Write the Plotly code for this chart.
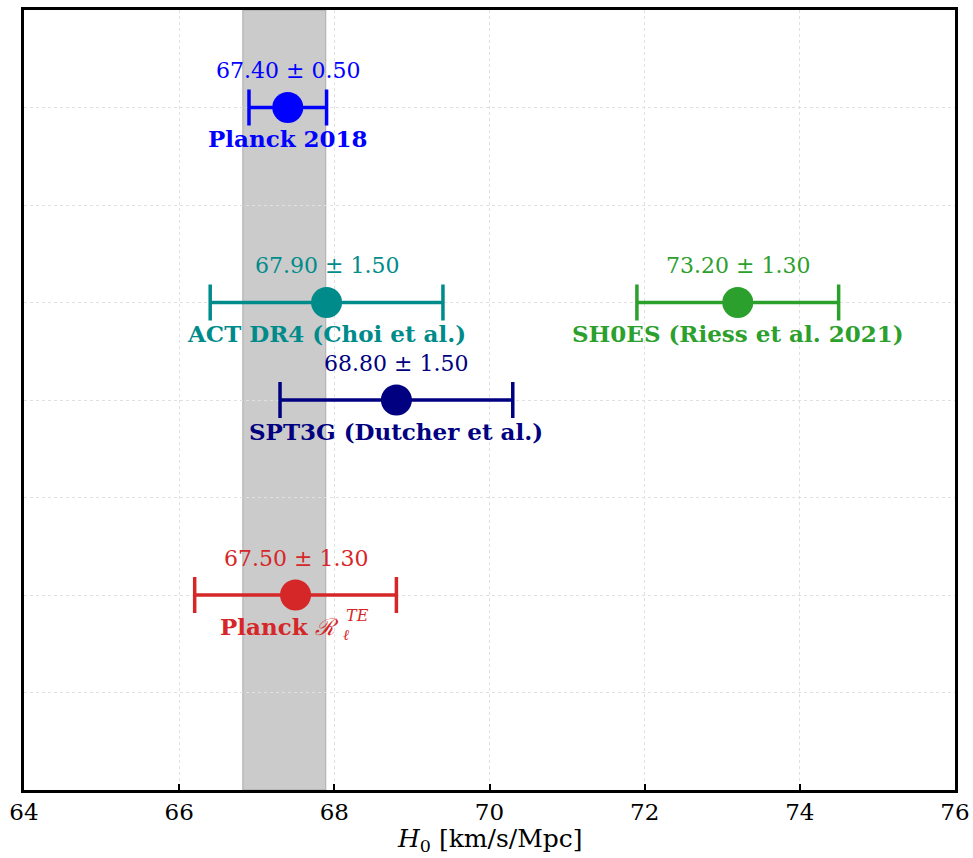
import plotly.graph_objects as go

names = ["Planck 2018", "ACT DR4 (Choi et al.)", "SPT3G (Dutcher et al.)", "SH0ES (Riess et al. 2021)", "Planck"]
h0 = [67.40, 67.90, 68.80, 73.20, 67.50]
err = [0.50, 1.50, 1.50, 1.30, 1.30]
ypos = [7, 5, 4, 5, 2]
colors = ["#0000ff", "#008b8b", "#000080", "#2ca02c", "#d62728"]
band = [66.82, 67.89]
xticks = [64, 66, 68, 70, 72, 74, 76]
xtitle = "<i>H</i><sub>0</sub> [km/s/Mpc]"

fig = go.Figure()
fig.add_shape(type="rect", xref="x", yref="paper", x0=band[0], x1=band[1], y0=0, y1=1,
              fillcolor="rgba(160,160,160,0.55)", line=dict(color="rgba(140,140,140,0.6)", width=1), layer="below")

serif = "DejaVu Serif"
for i, (n, x, e, y, c) in enumerate(zip(names, h0, err, ypos, colors)):
    fig.add_trace(go.Scatter(x=[x], y=[y], mode="markers",
                             marker=dict(size=31, color=c),
                             error_x=dict(type="data", array=[e], color=c, thickness=3.5, width=18),
                             showlegend=False, hoverinfo="skip"))
    fig.add_annotation(x=x, y=y, text=f"{x:.2f} ± {e:.2f}", showarrow=False, yshift=37,
                       font=dict(family=serif, size=22, color=c))
    if i == 4:
        fig.add_annotation(x=x, y=y, text=f"<b>{n}</b> <i>ℛ</i>", showarrow=False, yshift=-31,
                           xshift=-16, font=dict(family=serif, size=23, color=c))
        fig.add_annotation(x=x, y=y, text="<i>TE</i>", showarrow=False, yshift=-20, xshift=62,
                           font=dict(family=serif, size=16, color=c))
        fig.add_annotation(x=x, y=y, text="<i>ℓ</i>", showarrow=False, yshift=-40, xshift=50,
                           font=dict(family=serif, size=15, color=c))
    else:
        fig.add_annotation(x=x, y=y, text=f"<b>{n}</b>", showarrow=False, yshift=-31,
                           font=dict(family=serif, size=23, color=c))

fig.add_annotation(x=0.5, y=0, xref="paper", yref="paper", text=xtitle, showarrow=False,
                   yanchor="bottom", yshift=-67, borderpad=0,
                   font=dict(family=serif, size=25, color="black"))

fig.update_layout(
    width=973, height=858,
    margin=dict(l=24, r=18, t=10, b=68),
    plot_bgcolor="white", paper_bgcolor="white",
    font=dict(family=serif, color="black"),
    xaxis=dict(range=[64, 76], tickvals=xticks, ticktext=[str(t) for t in xticks],
               showline=True, linecolor="black", linewidth=2.5, mirror=True,
               ticks="inside", ticklen=6, tickwidth=2, tickcolor="black",
               showgrid=True, gridcolor="#e0e0e0", griddash="dot", gridwidth=1,
               tickfont=dict(family=serif, size=23), automargin=False,
               zeroline=False),
    yaxis=dict(range=[0, 8], tickvals=[1, 2, 3, 4, 5, 6, 7], showticklabels=False,
               showline=True, linecolor="black", linewidth=2.5, mirror=True, ticks="",
               showgrid=True, gridcolor="#e0e0e0", griddash="dot", gridwidth=1, zeroline=False),
)

fig.write_html("out.html")
